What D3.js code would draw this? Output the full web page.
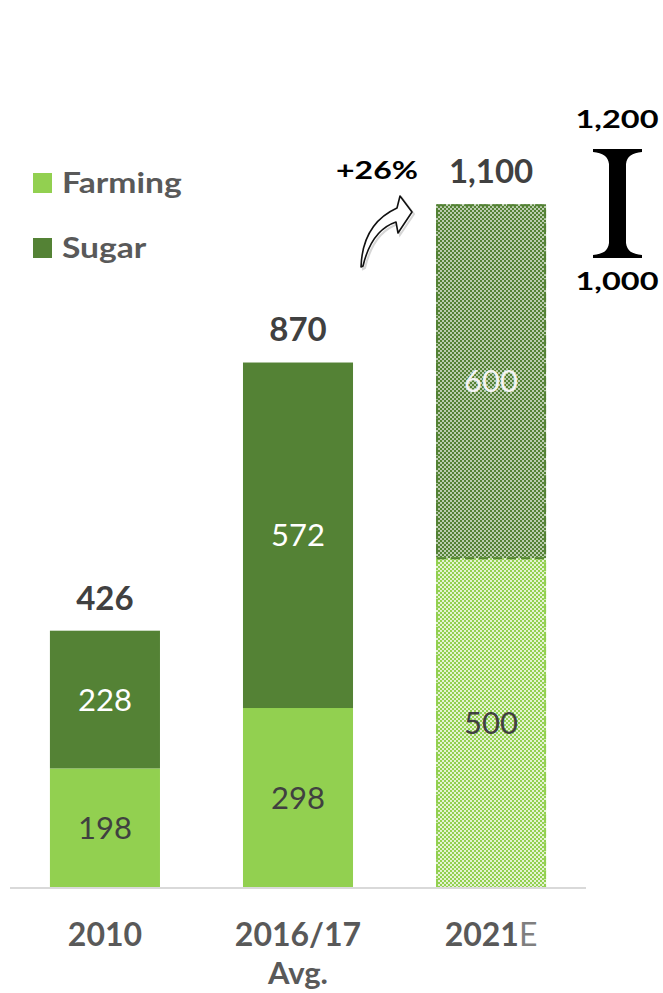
<!DOCTYPE html>
<html><head><meta charset="utf-8">
<script src="https://cdn.jsdelivr.net/npm/d3@7"></script>
<style>body{margin:0;background:#fff;} svg{display:block;}</style>
</head><body>
<script>
// ---- data ----
const categories = ["2010", "2016/17", "2021E"];
const categorySub = ["", "Avg.", ""];
const farmingLabels = [198, 298, 500];
const sugarLabels = [228, 572, 600];
const totalLabels = ["426", "870", "1,100"];
// drawn heights (2021E bar is drawn taller than its labels in the original)
const farmingBar = [198, 298, 546];
const sugarBar = [228, 572, 586];
const estimateFlags = [false, false, true];
const growthLabel = "+26%";
const rangeLabels = ["1,200", "1,000"];
const legendItems = ["Farming", "Sugar"];

const W = 663, H = 993;
const FARM = "#92D050", SUGAR = "#548235";
const FONT = "Lato, 'Open Sans', sans-serif";

const svg = d3.select("body").append("svg").attr("width", W).attr("height", H);
const defs = svg.append("defs");
function checker(id, col, bg) {
  const p = defs.append("pattern").attr("id", id).attr("patternUnits", "userSpaceOnUse")
    .attr("width", 4).attr("height", 4);
  p.append("rect").attr("width", 4).attr("height", 4).attr("fill", bg);
  p.append("rect").attr("width", 2).attr("height", 2).attr("fill", col);
  p.append("rect").attr("x", 2).attr("y", 2).attr("width", 2).attr("height", 2).attr("fill", col);
}
checker("pFarm", FARM, "#e4f3d3");
checker("pSugar", SUGAR, "#bccdb0");

const x = d3.scaleBand().domain(categories).range([9, 587]).paddingInner(0.43).paddingOuter(0.212);
const y = d3.scaleLinear().domain([0, 1000]).range([888, 284]);

// stretched text helper
function stext(parent, cx, cy, txt, size, weight, fill, sx) {
  const gg = parent.append("g").attr("transform", `translate(${cx},${cy}) scale(${sx},1)`);
  return gg.append("text").attr("dy", "0.36em").attr("text-anchor", "middle")
    .attr("font-family", FONT).attr("font-size", size).attr("font-weight", weight)
    .attr("fill", fill).text(txt);
}

// bars
const g = svg.append("g");
categories.forEach((c, i) => {
  const x0 = x(c), bw = x.bandwidth();
  const est = estimateFlags[i];
  const f0 = y(0), f1 = y(farmingBar[i]), s1 = y(farmingBar[i] + sugarBar[i]);
  g.append("rect").attr("x", x0).attr("y", f1).attr("width", bw).attr("height", f0 - f1)
    .attr("fill", est ? "url(#pFarm)" : FARM);
  g.append("rect").attr("x", x0).attr("y", s1).attr("width", bw).attr("height", f1 - s1)
    .attr("fill", est ? "url(#pSugar)" : SUGAR);
  if (est) {
    g.append("rect").attr("x", x0 + 1).attr("y", f1).attr("width", bw - 2).attr("height", f0 - f1)
      .attr("fill", "none").attr("stroke", FARM).attr("stroke-width", 2).attr("stroke-dasharray", "9,5");
    g.append("rect").attr("x", x0 + 1).attr("y", s1 + 1).attr("width", bw - 2).attr("height", f1 - s1 - 1)
      .attr("fill", "none").attr("stroke", SUGAR).attr("stroke-width", 2).attr("stroke-dasharray", "9,5");
  }
  const cx = x0 + bw / 2;
  g.append("text").attr("x", cx).attr("y", (f0 + f1) / 2).attr("dy", "0.36em")
    .attr("text-anchor", "middle").attr("font-family", FONT).attr("font-size", 31)
    .attr("fill", "#404040").text(farmingLabels[i]);
  g.append("text").attr("x", cx).attr("y", (f1 + s1) / 2).attr("dy", "0.36em")
    .attr("text-anchor", "middle").attr("font-family", FONT).attr("font-size", 31)
    .attr("fill", est ? "#f4f4f4" : "#ffffff").text(sugarLabels[i]);
  g.append("text").attr("x", cx).attr("y", s1 - 33).attr("dy", "0.36em")
    .attr("text-anchor", "middle").attr("font-family", FONT).attr("font-size", 33)
    .attr("font-weight", 700).attr("fill", "#404040").text(totalLabels[i]);
});

// axis
const xAxis = svg.append("g").attr("transform", `translate(0,${y(0)})`)
  .call(d3.axisBottom(x).tickSize(0).tickPadding(0).tickFormat(() => ""));
xAxis.select(".domain").attr("stroke", "#d9d9d9").attr("stroke-width", 2)
  .attr("d", `M10,0H586`);
xAxis.selectAll(".tick").each(function(c, i) {
  const t = d3.select(this);
  const lab = t.append("text").attr("y", 46).attr("dy", "0.36em").attr("text-anchor", "middle")
    .attr("font-family", FONT).attr("font-size", 32).attr("font-weight", 700).attr("fill", "#595959");
  if (c.endsWith("E")) {
    lab.append("tspan").text(c.slice(0, -1));
    lab.append("tspan").attr("font-weight", 400).attr("fill", "#7f7f7f").text("E");
  } else lab.text(c);
  if (categorySub[i]) {
    t.append("text").attr("y", 85).attr("dy", "0.36em").attr("text-anchor", "middle")
      .attr("font-family", FONT).attr("font-size", 31).attr("font-weight", 700).attr("fill", "#595959")
      .text(categorySub[i]);
  }
});

// legend
const lg = svg.append("g");
legendItems.forEach((n, i) => {
  const yy = 183 + i * 65;
  lg.append("rect").attr("x", 33).attr("y", yy - 10).attr("width", 19).attr("height", 20)
    .attr("fill", i === 0 ? FARM : SUGAR);
  const tg = lg.append("g").attr("transform", `translate(62,${yy}) scale(1.2,1)`);
  tg.append("text").attr("dy", "0.36em").attr("font-family", FONT)
    .attr("font-size", 28).attr("font-weight", 700).attr("fill", "#595959").text(n);
});

// growth annotation
stext(svg, 377, 170, growthLabel, 25, 700, "#000", 1.28);
const arrowPath = "M361,267 C362,238 375,218 397,208 L400,196 L412,212 L398,233 L396,222 C378,228 368,245 363,266 Z";
svg.append("path").attr("d", arrowPath).attr("transform", "translate(2,2)")
  .attr("fill", "none").attr("stroke", "#bbb").attr("stroke-width", 2).attr("opacity", 0.6);
svg.append("path").attr("d", arrowPath).attr("fill", "#fff").attr("stroke", "#111")
  .attr("stroke-width", 1.6).attr("stroke-linejoin", "round");

// range bracket
stext(svg, 617, 119, rangeLabels[0], 25, 700, "#000", 1.3);
stext(svg, 617, 281, rangeLabels[1], 25, 700, "#000", 1.3);
svg.append("path")
  .attr("d", "M593,149 H642 V152 C632,153 627,156 626,164 V243 C627,251 632,254 642,255 V258 H593 V255 C603,254 608,251 609,243 V164 C608,156 603,153 593,152 Z")
  .attr("fill", "#000");
</script>
</body></html>
